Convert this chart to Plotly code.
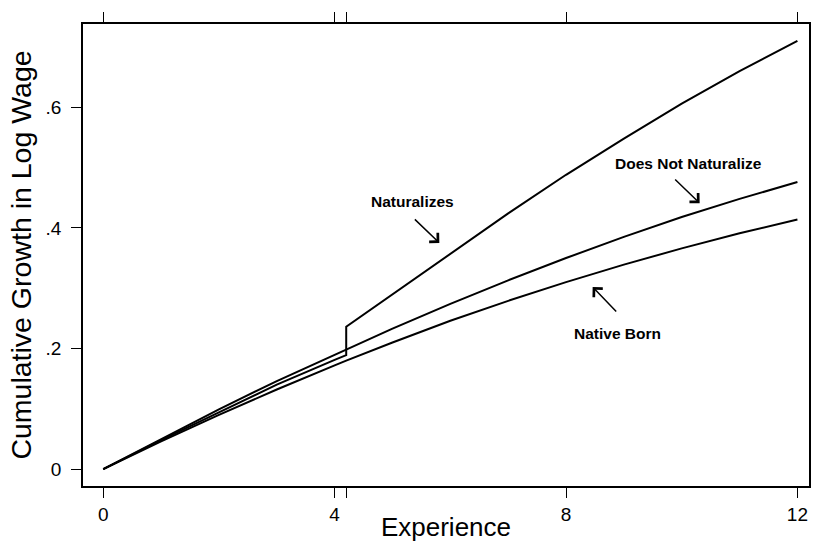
import plotly.graph_objects as go

# Data
exp_nb = [0, 1, 2, 3, 4, 4.2, 5, 6, 7, 8, 9, 10, 11, 12]
native_born = [0, 0.046, 0.090, 0.132, 0.172, 0.180, 0.210, 0.246, 0.279, 0.310, 0.339, 0.366, 0.391, 0.414]

exp_dnn = [0, 1, 2, 3, 4, 4.2, 5, 6, 7, 8, 9, 10, 11, 12]
does_not_naturalize = [0, 0.050, 0.099, 0.146, 0.190, 0.199, 0.233, 0.274, 0.313, 0.350, 0.385, 0.418, 0.448, 0.476]

exp_nat = [0, 1, 2, 3, 4, 4.2, 4.2, 5, 6, 7, 8, 9, 10, 11, 12]
naturalizes = [0, 0.048, 0.094, 0.140, 0.181, 0.189, 0.236, 0.290, 0.358, 0.424, 0.488, 0.548, 0.606, 0.660, 0.710]

x_ticks = [0, 4, 4.2, 8, 12]
x_tick_labels = ["0", "4", "", "8", "12"]
y_ticks = [0, 0.2, 0.4, 0.6]
y_tick_labels = ["0", ".2", ".4", ".6"]

labels = ["Naturalizes", "Does Not Naturalize", "Native Born"]
label_x = [5.35, 10.12, 8.89]
label_y = [0.443, 0.507, 0.2255]
arrow_x = [5.81, 10.31, 8.46]
arrow_y = [0.375, 0.441, 0.302]
arrow_ax = [-26, -26, 25]
arrow_ay = [-25, -25, 26]

FONT = "Liberation Sans, Arial, sans-serif"

fig = go.Figure()
line_style = dict(color="black", width=2)
fig.add_trace(go.Scatter(x=exp_nb, y=native_born, mode="lines", line=line_style, name="Native Born"))
fig.add_trace(go.Scatter(x=exp_dnn, y=does_not_naturalize, mode="lines", line=line_style, name="Does Not Naturalize"))
fig.add_trace(go.Scatter(x=exp_nat, y=naturalizes, mode="lines", line=line_style, name="Naturalizes"))

for i, t in enumerate(labels):
    fig.add_annotation(x=label_x[i], y=label_y[i], text="<b>%s</b>" % t, showarrow=False,
                       font=dict(family=FONT, size=15.5, color="black"))
    fig.add_annotation(x=arrow_x[i], y=arrow_y[i], ax=arrow_ax[i], ay=arrow_ay[i], text="",
                       showarrow=True, arrowhead=4, arrowsize=1.6, arrowwidth=1.5, arrowcolor="black")

axis_font = dict(family=FONT, size=19, color="black")
fig.update_layout(
    width=813, height=542,
    margin=dict(l=83, r=4, t=24, b=56),
    paper_bgcolor="white", plot_bgcolor="white",
    showlegend=False,
    font=dict(family=FONT, color="black"),
    xaxis=dict(range=[-0.35, 12.2], tickvals=x_ticks, ticktext=x_tick_labels,
               ticks="outside", ticklen=10, tickwidth=1.2, tickcolor="black",
               showline=True, linecolor="black", linewidth=1.5, mirror="ticks",
               showgrid=False, zeroline=False, tickfont=axis_font, automargin=False,
               title=dict(text="Experience", font=dict(size=26, family=FONT), standoff=0)),
    yaxis=dict(range=[-0.028, 0.738], tickvals=y_ticks, ticktext=y_tick_labels,
               ticks="outside", ticklen=10, tickwidth=1.2, tickcolor="black",
               showline=True, linecolor="black", linewidth=1.5, mirror=True,
               showgrid=False, zeroline=False, tickfont=axis_font, automargin=False,
               ticklabelstandoff=6,
               title=dict(text="Cumulative Growth in Log Wage", font=dict(size=28.5, family=FONT), standoff=6)),
)

fig.write_html("out.html", config={"displayModeBar": False},
               post_script="document.body.style.margin='0px';document.body.style.overflow='hidden';")
